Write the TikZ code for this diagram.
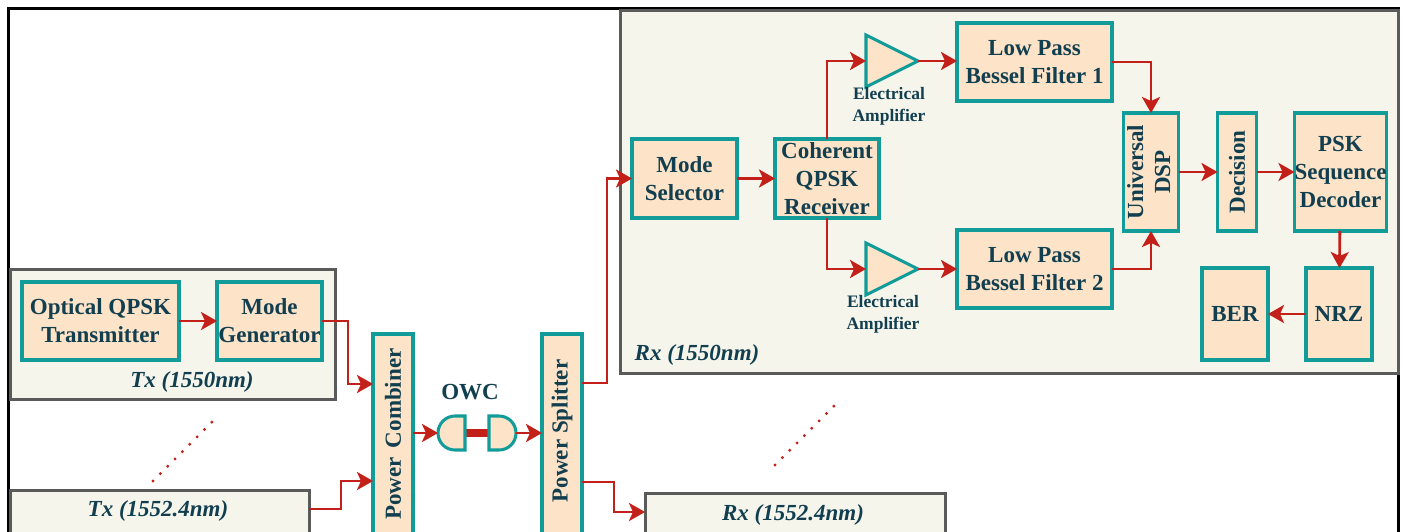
\documentclass[tikz,border=0pt]{standalone}
\usepackage{fontspec}
\setmainfont{Liberation Serif}
\usepackage{xcolor}
\usetikzlibrary{positioning,arrows.meta,shapes.geometric}
\definecolor{blockfill}{HTML}{FDE3C8}
\definecolor{blockline}{HTML}{119C99}
\definecolor{panelfill}{HTML}{F6F5EC}
\definecolor{panelline}{HTML}{5A5A5A}
\definecolor{wirered}{HTML}{C4201A}
\definecolor{inktext}{HTML}{123F4F}
\tikzset{>={Stealth[length=16pt,width=18pt,inset=4pt]}}
\tikzset{
  blockbox/.style={draw=blockline,fill=blockfill,line width=3.05pt,inner sep=0pt,outer sep=0pt,
    text=inktext,align=center,font=\bfseries\fontsize{23}{28}\selectfont},
  panelbox/.style={draw=panelline,fill=panelfill,line width=3pt},
  panellabel/.style={text=inktext,inner sep=0pt,font=\bfseries\itshape\fontsize{23}{26}\selectfont},
  amplabel/.style={text=inktext,inner sep=0pt,align=center,font=\bfseries\fontsize{17.5}{22}\selectfont},
  ampbox/.style={draw=blockline,fill=blockfill,line width=3.05pt,isosceles triangle,
    isosceles triangle stretches,minimum width=52pt,minimum height=52pt,inner sep=0pt,outer sep=0pt},
  wire/.style={draw=wirered,line width=2.8pt,->},
  dotline/.style={draw=wirered,line width=3.2pt,line cap=round,dash pattern=on 0pt off 10.4pt},
}
\def\uptext#1{\rotatebox{90}{#1}}
\begin{document}
\begin{tikzpicture}[x=1pt,y=-1pt]
  \clip (0,0) rectangle (1404,531);
  \fill[white] (0,0) rectangle (1404,531);
  \draw[black,line width=2.6pt] (8.5,8.5) rectangle (1398.5,560);

  \path[panelbox] (620,10) rectangle (1398,373);
  \path[panelbox] (10,269) rectangle (335,399);
  \path[panelbox] (10,490) rectangle (309,540);
  \path[panelbox] (645,493) rectangle (945,540);

  \node[panellabel] (txa) at (192,382) {Tx (1550nm)};
  \node[panellabel] (txb) at (158,511) {Tx (1552.4nm)};
  \node[panellabel] (rxa) at (697,355) {Rx (1550nm)};
  \node[panellabel] (rxb) at (793,515) {Rx (1552.4nm)};

  \node[blockbox,minimum width=157pt,minimum height=78pt] (qpsktx) at (100.5,321) {Optical QPSK\\Transmitter};
  \node[blockbox,minimum width=105pt,minimum height=78pt,right=38pt of qpsktx] (modegen) {Mode\\Generator};

  \node[blockbox,minimum width=40pt,minimum height=200pt] (pcomb) at (393,434) {\uptext{Power\hspace{9pt}Combiner}};
  \node[blockbox,minimum width=40pt,minimum height=200pt] (psplit) at (562,434) {\uptext{\hspace*{6pt}Power Splitter}};

  \node[text=inktext,inner sep=0pt,font=\bfseries\fontsize{23}{28}\selectfont] (owc) at (470,392) {OWC};
  \draw[wirered,line width=8pt] (465,433) -- (489,433);
  \draw[draw=blockline,fill=blockfill,line width=3.05pt] (465,416) -- (455,416)
    arc[start angle=-90,end angle=-270,radius=17] -- (465,450) -- cycle;
  \draw[draw=blockline,fill=blockfill,line width=3.05pt] (489,416) -- (499,416)
    arc[start angle=-90,end angle=90,radius=17] -- (489,450) -- cycle;
  \coordinate (owcin) at (438,433);
  \coordinate (owcout) at (516,433);

  \node[blockbox,minimum width=105pt,minimum height=79pt] (modesel) at (684.5,178.5) {Mode\\Selector};
  \node[blockbox,minimum width=104pt,minimum height=79pt,right=38pt of modesel] (cohrx) {Coherent\\QPSK\\Receiver};

  \node[ampbox,anchor=lower side] (ampa) at (866,61) {};
  \node[ampbox,anchor=lower side] (ampb) at (866,269) {};
  \node[amplabel] (ampatext) at (889,106) {Electrical\\Amplifier};
  \node[amplabel] (ampbtext) at (883,314) {Electrical\\Amplifier};

  \node[blockbox,minimum width=155pt,minimum height=78pt] (lpfa) at (1034.5,62) {Low Pass\\Bessel Filter 1};
  \node[blockbox,minimum width=155pt,minimum height=78pt] (lpfb) at (1034.5,269) {Low Pass\\Bessel Filter 2};

  \node[blockbox,minimum width=52pt,minimum height=118pt] (udsp) at (1151,172) {\uptext{\begin{tabular}{@{}c@{}}Universal\\[-1pt]DSP\end{tabular}}};
  \node[blockbox,minimum width=39pt,minimum height=118pt,right=39pt of udsp] (decis) {\uptext{Decision}};
  \node[blockbox,minimum width=92pt,minimum height=118pt,right=38pt of decis] (pskdec) {PSK\\Sequence\\Decoder};
  \node[blockbox,minimum width=66pt,minimum height=92pt] (nrz) at (1339,314) {NRZ};
  \node[blockbox,minimum width=66pt,minimum height=92pt,left=38pt of nrz] (ber) {BER};

  \coordinate (pcombina) at (373,384);
  \coordinate (pcombinb) at (373,481);
  \coordinate (psplitouta) at (582,383);
  \coordinate (psplitoutb) at (582,482);
  \coordinate (pcombout) at (413,433);
  \coordinate (psplitin) at (542,433);
  \coordinate (txbout) at (309,509);
  \coordinate (rxbin) at (645,512);

  \path[wire] (qpsktx) -- (modegen);
  \path[wire] (modegen.east) -- ++(26,0) |- (pcombina);
  \path[wire] (txbout) -- (341,509) |- (pcombinb);
  \path[wire] (pcombout) -- (owcin);
  \path[wire] (owcout) -- (psplitin);
  \path[wire] (psplitouta) -- (607,383) |- (modesel.west);
  \path[wire] (psplitoutb) -- (614,482) |- (rxbin);

  \path[wire] (modesel) -- (cohrx);
  \path[wire] (cohrx.north) |- (ampa.lower side);
  \path[wire] (cohrx.south) |- (ampb.lower side);
  \path[wire] (ampa.apex) -- (lpfa.west |- ampa.apex);
  \path[wire] (ampb.apex) -- (lpfb.west |- ampb.apex);
  \path[wire] (lpfa.east) -| (udsp.north);
  \path[wire] (lpfb.east) -| (udsp.south);
  \path[wire] (udsp) -- (decis);
  \path[wire] (decis) -- (pskdec);
  \path[wire] (pskdec) -- (nrz);
  \path[wire] (nrz) -- (ber);

  \coordinate (dotaa) at (153,481);
  \coordinate (dotab) at (213,421);
  \coordinate (dotba) at (775,465);
  \coordinate (dotbb) at (835,405);
  \path[dotline] (dotaa) -- (dotab);
  \path[dotline] (dotba) -- (dotbb);
\end{tikzpicture}
\end{document}
